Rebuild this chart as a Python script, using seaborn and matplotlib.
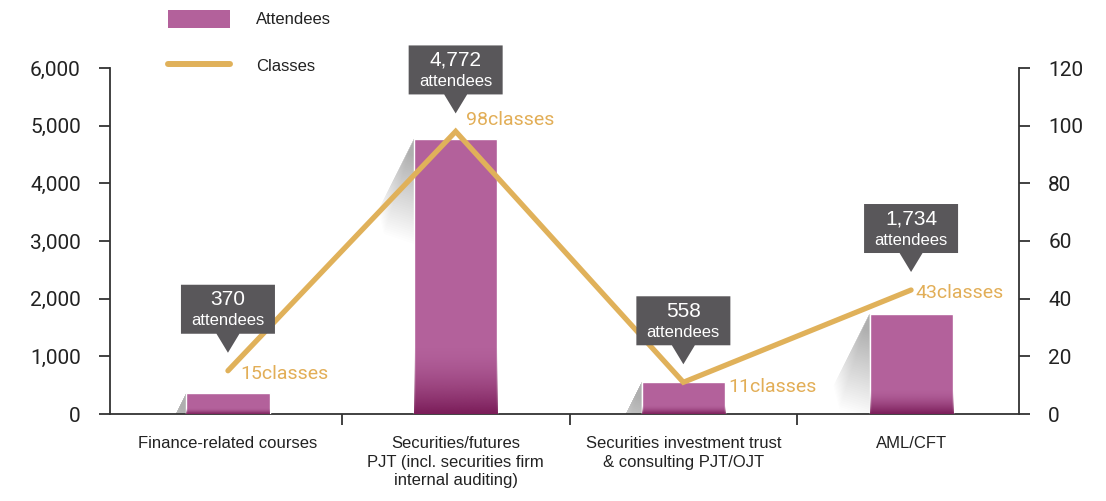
import numpy as np
import matplotlib
matplotlib.use("Agg")
import matplotlib.pyplot as plt
import matplotlib.transforms as mtransforms
import matplotlib.colors as mcolors
from matplotlib.patches import Polygon, Rectangle
from matplotlib.lines import Line2D
import seaborn as sns

# ---------------- data ----------------
categories = [
    "Finance-related courses",
    "Securities/futures\nPJT (incl. securities firm\ninternal auditing)",
    "Securities investment trust\n& consulting PJT/OJT",
    "AML/CFT",
]
attendees = [370, 4772, 558, 1734]
classes = [15, 98, 11, 43]
left_ticks = [0, 1000, 2000, 3000, 4000, 5000, 6000]
right_ticks = [0, 20, 40, 60, 80, 100, 120]
legend_labels = ["Attendees", "Classes"]
class_suffix = "classes"
attendee_suffix = "attendees"

# ---------------- style ----------------
BAR = "#b3619b"
DARK = "#7a1c58"
LINE = "#e0b15a"
LABEL = "#e2ae57"
BOX = "#59575a"
AXC = "#333333"
TXT = "#222222"
XLIM = (-0.518, 3.474)

sns.set_theme(style="white")
plt.rcParams["font.family"] = ["Roboto", "DejaVu Sans"]

W, H = 1106, 501
fig = plt.figure(figsize=(W / 100, H / 100), dpi=100)
ax = fig.add_axes([110 / W, 87 / H, 909 / W, 346 / H])

sns.barplot(x=categories, y=attendees, ax=ax, color=BAR, width=0.365,
            saturation=1, zorder=3)

ax.set_xlim(*XLIM)
ax.set_ylim(left_ticks[0], left_ticks[-1])

def off_trans(axis, x, y):
    return fig.dpi_scale_trans + mtransforms.ScaledTranslation(x, y, axis.transData)

# gradient at bottom of bars + soft shadows
grad = np.zeros((256, 1, 4))
grad[..., :3] = mcolors.to_rgb(DARK)
grad[..., 3] = (np.linspace(1, 0, 256) ** 1.7)[:, None]
bars = list(ax.patches)
for p in bars:
    x0, w, h = p.get_x(), p.get_width(), p.get_height()
    im = ax.imshow(grad, extent=[x0, x0 + w, 0, h * 0.25], origin="lower",
                   aspect="auto", zorder=4, interpolation="bilinear")
    im.set_clip_path(p)
    tr = off_trans(ax, x0, h)
    n = 40
    for k in range(n):
        s = 1 - k * (0.85 / n)
        poly = Polygon([(0, 0), (-0.36 * s, -0.72 * s), (-0.30 * s, -0.95 * s),
                        (0, -1.05 * s)], closed=True, transform=tr,
                       facecolor="#555555", edgecolor="none", alpha=0.010, zorder=2)
        ax.add_patch(poly)

ax.set_xlim(*XLIM)
ax.set_ylim(left_ticks[0], left_ticks[-1])
ax.set_yticks(left_ticks)
ax.set_yticklabels([f"{v:,}" for v in left_ticks])
ax.set_xticks(range(len(categories)))
ax.set_xticklabels(categories, fontfamily="Liberation Sans", fontsize=12,
                   color=TXT, linespacing=1.3)
ax.set_xticks(np.arange(len(categories) - 1) + 0.5, minor=True)
ax.set_xlabel("")
ax.set_ylabel("")

for side in ["top", "right"]:
    ax.spines[side].set_visible(False)
for side in ["left", "bottom"]:
    ax.spines[side].set_color(AXC)
    ax.spines[side].set_linewidth(1.3)

ax.tick_params(axis="y", which="major", left=True, length=8, width=1.3,
               color=AXC, pad=13, labelsize=15, labelcolor=TXT)
ax.tick_params(axis="x", which="major", bottom=True, length=0, pad=16)
ax.tick_params(axis="x", which="minor", bottom=True, length=8, width=1.3,
               color=AXC)

# ---------------- line on secondary axis ----------------
ax2 = ax.twinx()
sns.lineplot(x=np.arange(len(classes)), y=classes, ax=ax2, color=LINE,
             linewidth=3.8, solid_capstyle="round", solid_joinstyle="miter",
             zorder=5)
ax2.set_ylim(right_ticks[0], right_ticks[-1])
ax2.set_xlim(*XLIM)
ax2.set_yticks(right_ticks)
ax2.set_ylabel("")
for side in ["top", "left", "bottom"]:
    ax2.spines[side].set_visible(False)
ax2.spines["right"].set_color(AXC)
ax2.spines["right"].set_linewidth(1.3)
ax2.tick_params(axis="y", which="major", right=True, length=8, width=1.3,
                color=AXC, pad=13, labelsize=15, labelcolor=TXT)

label_dx = [12, 10, 45, 4]
label_dy = [-3, 11, -5, -3]
for i, c in enumerate(classes):
    ax2.annotate(f"{c}{class_suffix}", (i, c), xytext=(label_dx[i], label_dy[i]),
                 textcoords="offset pixels", ha="left", va="center",
                 fontsize=14, color=LABEL, zorder=7)

# callouts
for i, (a, c) in enumerate(zip(attendees, classes)):
    tr = off_trans(ax2, i, c)
    box = Polygon([(-0.47, 0.37), (-0.115, 0.37), (0, 0.18), (0.115, 0.37),
                   (0.47, 0.37), (0.47, 0.86), (-0.47, 0.86)], closed=True,
                  transform=tr, facecolor=BOX, edgecolor="none", zorder=8,
                  clip_on=False)
    ax2.add_patch(box)
    ax2.text(0, 0.71, f"{a:,}", transform=tr, ha="center", va="center",
             color="white", fontsize=15, fontfamily="Liberation Sans",
             zorder=9)
    ax2.text(0, 0.50, attendee_suffix, transform=tr, ha="center", va="center",
             color="white", fontsize=12, fontfamily="Liberation Sans",
             zorder=9)

# legend
handles = [Rectangle((0, 0), 1, 1, facecolor=BAR, edgecolor="none"),
           Line2D([0], [0], color=LINE, linewidth=4.3, solid_capstyle="round")]
leg = ax.legend(handles, legend_labels, loc="upper left",
                bbox_to_anchor=(168 / W, 1 - 10 / H),
                bbox_transform=fig.transFigure, frameon=False,
                borderpad=0, borderaxespad=0, handlelength=3.7,
                handleheight=1.25, handletextpad=1.56, labelspacing=1.75,
                prop={"family": "Liberation Sans", "size": 12})
for t in leg.get_texts():
    t.set_color(TXT)

fig.savefig("out.png", dpi=100)
